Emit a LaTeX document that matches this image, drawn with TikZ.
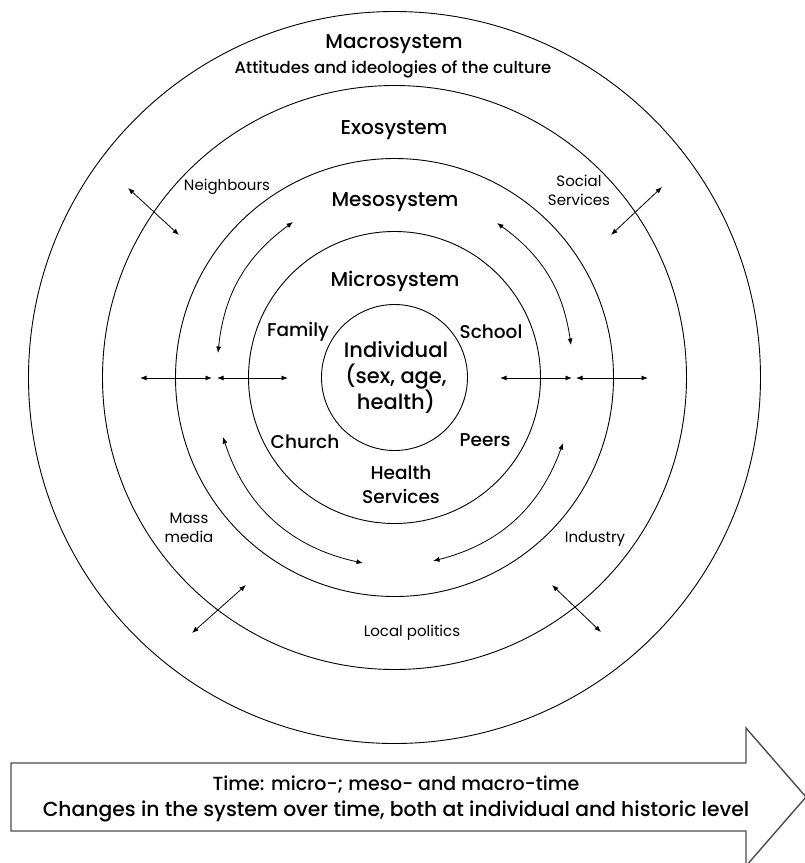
\documentclass[tikz,border=0pt]{standalone}
\usepackage{fontspec}
\setmainfont{Poppins Medium}
\newfontfamily\bookfont{Poppins}
\usetikzlibrary{arrows.meta}
\newcommand\setfs[2]{\fontsize{#1}{#2}\selectfont}

\begin{document}
\begin{tikzpicture}[x=1pt,y=-1pt,
  ring/.style={circle,draw,line width=0.9pt,inner sep=0pt,minimum size=#1},
  big/.style={font=\setfs{20}{26},align=center,inner sep=0pt},
  mid/.style={font=\setfs{18.5}{24},align=center,inner sep=0pt},
  small/.style={font=\bookfont\setfs{15}{19},align=center,inner sep=0pt},
  link/.style={line width=0.8pt,{Latex[length=6.5pt,width=5pt]}-{Latex[length=6.5pt,width=5pt]}},
]
\useasboundingbox (0,0) rectangle (805,863);

% nested system rings
\coordinate (c) at (394.5,377.5);
\node[ring=732pt] (macro) at (c) {};
\node[ring=584pt] (exo)   at (c) {};
\node[ring=438pt] (meso)  at (c) {};
\node[ring=292pt] (micro) at (c) {};
\node[ring=146pt] (indiv) at (c) {};

% ring titles
\node[big] (tMacro) at (394,44) {Macrosystem};
\node[font=\setfs{16.5}{18},inner sep=0pt] (tCult) at (393,69) {Attitudes and ideologies of the culture};
\node[big] (tExo)   at (394,130) {Exosystem};
\node[big] (tMeso)  at (395,202) {Mesosystem};
\node[big] (tMicro) at (395,281) {Microsystem};
\node[big,font=\setfs{21}{26}] (tInd) at (396,377) {Individual\\(sex, age,\\health)};

% microsystem settings
\node[mid] (family) at (298,332) {Family};
\node[mid] (school) at (491,332) {School};
\node[mid] (church) at (305,442) {Church};
\node[mid] (peers)  at (485,440) {Peers};
\node[mid] (health) at (401,485) {Health\\Services};

% exosystem settings
\node[small] (neigh)  at (227,187) {Neighbours};
\node[small] (social) at (579,190) {Social\\Services};
\node[small] (mass)   at (189,528) {Mass\\media};
\node[small] (indus)  at (595,539) {Industry};
\node[small] (local)  at (412,633) {Local politics};

% horizontal links across the rings
\coordinate (hl1) at (140,378); \coordinate (hl2) at (212,378);
\coordinate (hl3) at (217,378); \coordinate (hl4) at (288,378);
\coordinate (hr1) at (500,378); \coordinate (hr2) at (572,378);
\coordinate (hr3) at (576,378); \coordinate (hr4) at (648,378);
\draw[link] (hl1) -- (hl2);
\draw[link] (hl3) -- (hl4);
\draw[link] (hr1) -- (hr2);
\draw[link] (hr3) -- (hr4);

% diagonal links across the exosystem border
\coordinate (dtl1) at (128,188); \coordinate (dtl2) at (179,235);
\coordinate (dtr1) at (662,187); \coordinate (dtr2) at (611,235);
\coordinate (dbl1) at (246,585); \coordinate (dbl2) at (192,633);
\coordinate (dbr1) at (552,585); \coordinate (dbr2) at (601,632);
\draw[link] (dtl1) -- (dtl2);
\draw[link] (dtr1) -- (dtr2);
\draw[link] (dbl1) -- (dbl2);
\draw[link] (dbr1) -- (dbr2);

% curved links inside the mesosystem
\coordinate (cul1) at (293,222); \coordinate (cul2) at (218,353);
\coordinate (cur1) at (497,223); \coordinate (cur2) at (571,345);
\coordinate (cll1) at (223,437); \coordinate (cll2) at (363,563);
\coordinate (clr1) at (563,443); \coordinate (clr2) at (433,561);
\draw[link] (cul1) to[bend right=24] (cul2);
\draw[link] (cur1) to[bend left=23] (cur2);
\draw[link] (cll1) to[bend right=30] (cll2);
\draw[link] (clr1) to[bend left=28] (clr2);

% time arrow
\draw[line width=1.4pt,draw=black!70,line join=miter]
  (11,763) -- (746,763) -- (746,728) -- (806,797) -- (746,866)
  -- (746,831) -- (11,831) -- cycle;
\node[font=\setfs{19}{24},inner sep=0pt] (time1) at (396,784)
  {Time: micro-; meso- and macro-time};
\node[font=\setfs{20.3}{24},inner sep=0pt] (time2) at (396,811)
  {Changes in the system over time, both at individual and historic level};
\end{tikzpicture}
\end{document}
